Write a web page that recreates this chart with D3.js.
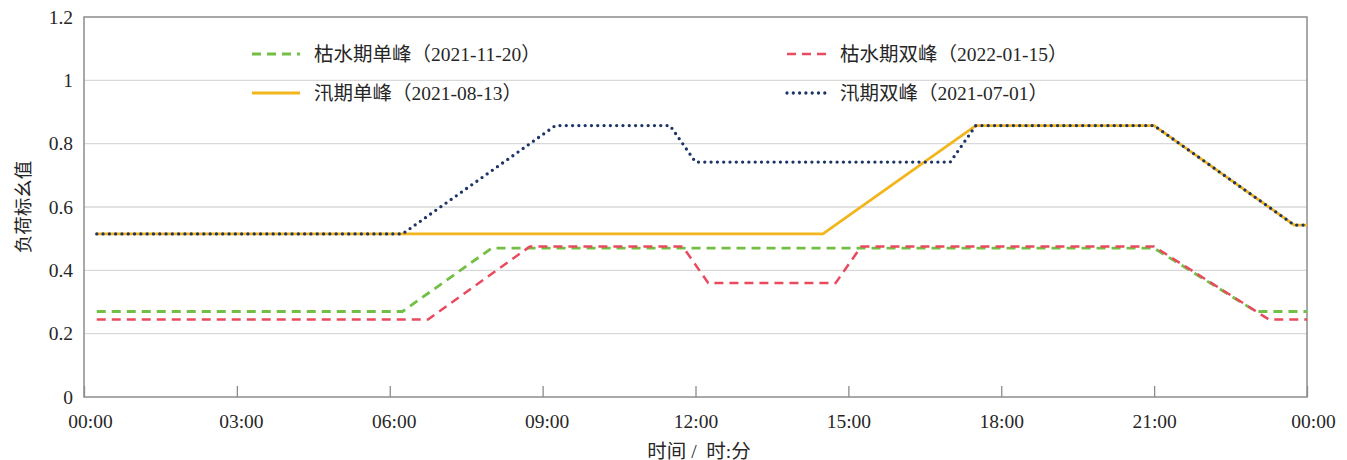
<!DOCTYPE html>
<html>
<head>
<meta charset="utf-8">
<script src="https://cdn.jsdelivr.net/npm/d3@7"></script>
<style>
  html, body { margin: 0; padding: 0; background: #fff; }
  svg text { font-family: "Liberation Serif", "Noto Sans CJK SC", serif; fill: #262626; }
</style>
</head>
<body>
<svg id="chart" width="1347" height="460"></svg>
<script>
// ---- data (hours of day, per-unit load) ----
const xTickHours = [0, 3, 6, 9, 12, 15, 18, 21, 24];
const xTickLabels = ["00:00", "03:00", "06:00", "09:00", "12:00", "15:00", "18:00", "21:00", "00:00"];
const yTicks = [0, 0.2, 0.4, 0.6, 0.8, 1, 1.2];
const yTickLabels = ["0", "0.2", "0.4", "0.6", "0.8", "1", "1.2"];

const seriesNames = ["枯水期单峰（2021-11-20）", "枯水期双峰（2022-01-15）", "汛期单峰（2021-08-13）", "汛期双峰（2021-07-01）"];

const drySingleT = [0.25, 6.25, 8.0, 21.0, 23.0, 24.0];
const drySingleV = [0.27, 0.27, 0.47, 0.47, 0.27, 0.27];

const dryDoubleT = [0.25, 6.75, 8.75, 11.75, 12.25, 14.75, 15.25, 21.0, 23.25, 24.0];
const dryDoubleV = [0.245, 0.245, 0.475, 0.475, 0.36, 0.36, 0.475, 0.475, 0.245, 0.245];

const floodSingleT = [0.25, 14.5, 17.5, 21.0, 23.75, 24.0];
const floodSingleV = [0.515, 0.515, 0.857, 0.857, 0.543, 0.543];

const floodDoubleT = [0.25, 6.25, 9.25, 11.5, 12.0, 17.0, 17.5, 21.0, 23.75, 24.0];
const floodDoubleV = [0.515, 0.515, 0.857, 0.857, 0.742, 0.742, 0.857, 0.857, 0.543, 0.543];

// ---- layout / style ----
const L = 84, R = 1307, T = 17, B = 397;
const svg = d3.select("#chart");
const x = d3.scaleLinear().domain([0, 24]).range([L, R]);
const y = d3.scaleLinear().domain([0, 1.2]).range([B, T]);

const styles = [
  { color: "#72BF44", width: 2.8, dash: "9,6", cap: "butt" },
  { color: "#E94A5E", width: 2.5, dash: "9,6", cap: "butt" },
  { color: "#F2B51C", width: 2.8, dash: null, cap: "butt" },
  { color: "#1C3467", width: 3.3, dash: "0,6.3", cap: "round" }
];

const series = [
  d3.zip(drySingleT, drySingleV),
  d3.zip(dryDoubleT, dryDoubleV),
  d3.zip(floodSingleT, floodSingleV),
  d3.zip(floodDoubleT, floodDoubleV)
];

// gridlines
svg.append("g")
  .selectAll("line")
  .data(yTicks.filter(v => v > 0 && v < 1.2))
  .join("line")
  .attr("x1", L).attr("x2", R)
  .attr("y1", d => y(d)).attr("y2", d => y(d))
  .attr("stroke", "#D9D9D9").attr("stroke-width", 1.3);

// frame
svg.append("rect")
  .attr("x", L).attr("y", T).attr("width", R - L).attr("height", B - T)
  .attr("fill", "none").attr("stroke", "#8C8C8C").attr("stroke-width", 1.5);

// x axis ticks (inside) and labels
const xAxis = d3.axisBottom(x).tickValues(xTickHours).tickSizeInner(-11).tickSizeOuter(0)
  .tickFormat((d, i) => xTickLabels[i]).tickPadding(17);
const gx = svg.append("g").attr("transform", `translate(0,${B})`).call(xAxis);
gx.select(".domain").remove();
gx.selectAll(".tick line").attr("stroke", "#8C8C8C").attr("stroke-width", 1.3);
const nX = xTickHours.length;
gx.selectAll(".tick text").attr("font-size", 19.5).attr("fill", "#262626")
  .style("font-family", "Liberation Serif, serif")
  .attr("dx", (d, i) => (i === 0 || i === nX - 1) ? 6 : (i <= 3 ? 4 : 0));

// y axis labels
const yAxis = d3.axisLeft(y).tickValues(yTicks).tickSize(0).tickPadding(11)
  .tickFormat((d, i) => yTickLabels[i]);
const gy = svg.append("g").attr("transform", `translate(${L},0)`).call(yAxis);
gy.select(".domain").remove();
gy.selectAll(".tick text").attr("font-size", 19.5).attr("fill", "#262626")
  .style("font-family", "Liberation Serif, serif");

// axis titles
svg.append("text")
  .attr("transform", `translate(24,${(T + B) / 2}) rotate(-90)`)
  .attr("text-anchor", "middle").attr("dominant-baseline", "central")
  .attr("font-size", 18.5).text("负荷标幺值");
svg.append("text")
  .attr("x", 699).attr("y", 451)
  .attr("text-anchor", "middle").attr("dominant-baseline", "central")
  .attr("font-size", 19.5).attr("xml:space", "preserve").text("时间 /  时:分");

// lines
const line = d3.line().x(d => x(d[0])).y(d => y(d[1]));
series.forEach((s, i) => {
  const st = styles[i];
  svg.append("path")
    .datum(s)
    .attr("d", line)
    .attr("fill", "none")
    .attr("stroke", st.color)
    .attr("stroke-width", st.width)
    .attr("stroke-linecap", st.cap)
    .attr("stroke-linejoin", "round")
    .attr("stroke-dasharray", st.dash);
});

// legend
const legendPos = [
  { x1: 252, x2: 300, tx: 314, y: 54 },
  { x1: 787, x2: 829, tx: 840, y: 54 },
  { x1: 252, x2: 300, tx: 314, y: 93 },
  { x1: 787, x2: 829, tx: 840, y: 93 }
];
seriesNames.forEach((name, i) => {
  const p = legendPos[i], st = styles[i];
  svg.append("line")
    .attr("x1", p.x1).attr("x2", p.x2).attr("y1", p.y).attr("y2", p.y)
    .attr("stroke", st.color).attr("stroke-width", st.width)
    .attr("stroke-linecap", st.cap)
    .attr("stroke-dasharray", st.dash);
  svg.append("text")
    .attr("x", p.tx).attr("y", p.y)
    .attr("dominant-baseline", "central")
    .attr("font-size", 19.5).text(name);
});
</script>
</body>
</html>
